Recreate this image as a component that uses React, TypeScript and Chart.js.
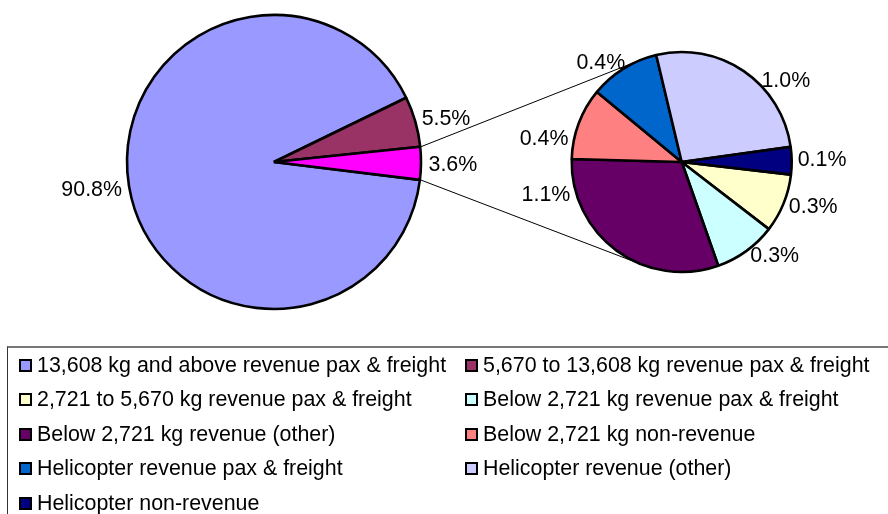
import React, { useEffect, useRef } from "react";
import { Chart, registerables } from "chart.js";

Chart.register(...registerables);

// ---- Data ----
const legendLabels = [
  "13,608 kg and above revenue pax & freight",
  "5,670 to 13,608 kg revenue pax & freight",
  "2,721 to 5,670 kg revenue pax & freight",
  "Below 2,721 kg revenue pax & freight",
  "Below 2,721 kg revenue (other)",
  "Below 2,721 kg non-revenue",
  "Helicopter revenue pax & freight",
  "Helicopter revenue (other)",
  "Helicopter non-revenue",
];

// primary pie: first two categories, the rest grouped as "other"
const mainValues = [90.84, 5.54];
// secondary pie: remaining seven categories (legend order)
const secondaryValues = [0.31, 0.33, 1.11, 0.38, 0.37, 0.955, 0.145];
const otherTotal = secondaryValues.reduce((a, b) => a + b, 0);
const mainData = [...mainValues, otherTotal];

const mainColors = ["#9999FF", "#993366", "#FF00FF"];
const secondaryColors = ["#FFFFCC", "#CCFFFF", "#660066", "#FF8080", "#0066CC", "#CCCCFF", "#000080"];
const legendColors = [mainColors[0], mainColors[1], ...secondaryColors];

// label angle nudges (degrees) to mimic best-fit placement
const mainLabelNudge = [0, 0, 0];
const secondaryLabelNudge = [-1.6, -5.6, 39.1, -9.3, -3.3, 13.5, -1];

const FONT = '"Liberation Sans", Arial, Helvetica, sans-serif';
const FONT_SIZE = 21.4;

const pieLabelPlugin = {
  id: "pieLabels",
  afterDatasetsDraw(chart: any, _args: any, opts: any) {
    const meta = chart.getDatasetMeta(0);
    const ds = chart.data.datasets[0];
    const ctx = chart.ctx;
    ctx.save();
    ctx.font = `${FONT_SIZE}px ${FONT}`;
    ctx.fillStyle = "#000";
    ctx.textAlign = "center";
    ctx.textBaseline = "alphabetic";
    meta.data.forEach((arc: any, i: number) => {
      const p = arc.getProps(["x", "y", "startAngle", "endAngle", "outerRadius"], true);
      const a = (p.startAngle + p.endAngle) / 2 + ((opts.nudge && opts.nudge[i]) || 0) * Math.PI / 180;
      const text = Number(ds.data[i]).toFixed(1) + "%";
      const hw = ctx.measureText(text).width / 2;
      const hh = 7.5;
      const c = Math.cos(a);
      const s = Math.sin(a);
      const d = p.outerRadius + opts.pad;
      const x = p.x + d * c + hw * c;
      const y = p.y + d * s + hh * s;
      ctx.fillText(text, x, y + 7.6);
    });
    ctx.restore();
  },
};

export default function App() {
  const mainRef = useRef<HTMLCanvasElement | null>(null);
  const secRef = useRef<HTMLCanvasElement | null>(null);

  useEffect(() => {
    if (!mainRef.current || !secRef.current) return;

    const mainChart = new Chart(mainRef.current, {
      type: "pie",
      data: {
        labels: [legendLabels[0], legendLabels[1], "Other"],
        datasets: [
          {
            data: mainData,
            backgroundColor: mainColors,
            borderColor: "#000",
            borderWidth: 2.6,
            radius: 147,
          } as any,
        ],
      },
      options: {
        responsive: false,
        animation: false,
        events: [],
        rotation: 97,
        layout: { padding: { left: 0, right: 340, top: 0, bottom: 23 } },
        plugins: {
          legend: { display: false },
          tooltip: { enabled: false },
          pieLabels: { pad: 7.5, nudge: mainLabelNudge },
        } as any,
      },
      plugins: [pieLabelPlugin],
    });

    const connectorPlugin = {
      id: "connectors",
      beforeDatasetsDraw(chart: any) {
        const mArc: any = mainChart.getDatasetMeta(0).data[2];
        const sArc: any = chart.getDatasetMeta(0).data[0];
        if (!mArc || !sArc) return;
        const m = mArc.getProps(["x", "y", "startAngle", "endAngle", "outerRadius"], true);
        const s = sArc.getProps(["x", "y", "outerRadius"], true);
        const R = m.outerRadius + 1;
        const P1 = { x: m.x + R * Math.cos(m.startAngle), y: m.y + R * Math.sin(m.startAngle) };
        const P2 = { x: m.x + R * Math.cos(m.endAngle), y: m.y + R * Math.sin(m.endAngle) };
        const r2 = s.outerRadius;
        const tangent = (P: any, sign: number) => {
          const dx = P.x - s.x;
          const dy = P.y - s.y;
          const d = Math.hypot(dx, dy);
          const base = Math.atan2(dy, dx);
          const off = Math.acos(r2 / d);
          const a = base + sign * off;
          return { x: s.x + r2 * Math.cos(a), y: s.y + r2 * Math.sin(a) };
        };
        const T1 = tangent(P1, 1);
        const T2 = tangent(P2, -1);
        const ctx = chart.ctx;
        ctx.save();
        ctx.strokeStyle = "#000";
        ctx.lineWidth = 1;
        ctx.beginPath();
        ctx.moveTo(P1.x, P1.y);
        ctx.lineTo(T1.x, T1.y);
        ctx.moveTo(P2.x, P2.y);
        ctx.lineTo(T2.x, T2.y);
        ctx.stroke();
        ctx.restore();
      },
    };

    const secChart = new Chart(secRef.current, {
      type: "pie",
      data: {
        labels: legendLabels.slice(2),
        datasets: [
          {
            data: secondaryValues,
            backgroundColor: secondaryColors,
            borderColor: "#000",
            borderWidth: 2.6,
            radius: 110,
          } as any,
        ],
      },
      options: {
        responsive: false,
        animation: false,
        events: [],
        rotation: 96.6,
        layout: { padding: { left: 475.4, right: 0, top: 0, bottom: 23 } },
        plugins: {
          legend: { display: false },
          tooltip: { enabled: false },
          pieLabels: { pad: 6, nudge: secondaryLabelNudge },
        } as any,
      },
      plugins: [connectorPlugin, pieLabelPlugin],
    });

    return () => {
      secChart.destroy();
      mainChart.destroy();
    };
  }, []);

  return (
    <div
      style={{
        position: "absolute",
        left: 0,
        top: 0,
        width: 888,
        height: 514,
        overflow: "hidden",
        background: "#fff",
      }}
    >
      <canvas ref={mainRef} width={888} height={347} style={{ position: "absolute", left: 0, top: 0 }} />
      <canvas ref={secRef} width={888} height={347} style={{ position: "absolute", left: 0, top: 0 }} />
      <div
        style={{
          position: "absolute",
          left: 7,
          top: 346,
          width: 900,
          height: 200,
          borderTop: "2px solid #777",
          borderLeft: "1px solid #333",
          fontFamily: FONT,
          fontSize: FONT_SIZE,
          color: "#000",
        }}
      >
        {legendLabels.map((lab, i) => {
          const col = i % 2;
          const row = Math.floor(i / 2);
          return (
            <div
              key={i}
              style={{
                position: "absolute",
                left: col ? 457 : 11,
                top: row * 34.5,
                height: 34.5,
                display: "flex",
                alignItems: "center",
                whiteSpace: "nowrap",
              }}
            >
              <span
                style={{
                  display: "inline-block",
                  width: 13,
                  height: 13,
                  boxSizing: "border-box",
                  border: "2px solid #000",
                  background: legendColors[i],
                  marginRight: 5,
                  flex: "0 0 auto",
                }}
              />
              <span>{lab}</span>
            </div>
          );
        })}
      </div>
    </div>
  );
}
